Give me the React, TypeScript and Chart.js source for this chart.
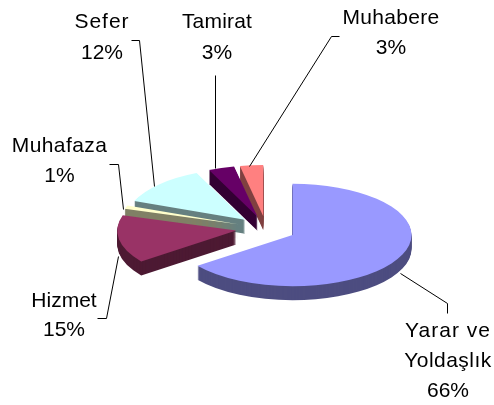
import React, { useEffect, useRef } from "react";
import { Chart, registerables } from "chart.js";

Chart.register(...registerables);

const categories = ["Yarar ve Yoldaşlık", "Hizmet", "Muhafaza", "Sefer", "Tamirat", "Muhabere"];
const shares = [65.5, 15, 1.1, 12.1, 3.4, 2.9];
const percentLabels = ["66%", "15%", "1%", "12%", "3%", "3%"];
const topColors = ["#9999FF", "#993366", "#FFFFCC", "#CCFFFF", "#660066", "#FF8080"];
const sideColors = ["#4D4D80", "#4D1A33", "#808066", "#668080", "#330033", "#804040"];

const FLATTEN = 0.43;
const DEPTH = 14;
const EXPLODE = 30;
const PERSPECTIVE = (3 * Math.PI) / 180;
const FONT = '21px "Liberation Sans", Arial, sans-serif';

const labelBlocks = [
  { lines: [["Yarar ve", 1], ["Yoldaşlık", 0.45]], x: 448, y: 331, gap: 30 },
  { lines: [["Hizmet", 0]], x: 64, y: 301, gap: 29 },
  { lines: [["Muhafaza", 0.4]], x: 59.5, y: 146, gap: 30 },
  { lines: [["Sefer", 1]], x: 102, y: 22, gap: 31 },
  { lines: [["Tamirat", 0.2]], x: 217, y: 22, gap: 31 },
  { lines: [["Muhabere", 0.3]], x: 391, y: 18, gap: 30 },
];

const leaders = [
  [[400, 273], [447, 303], [447, 313]],
  [[97, 318], [106, 318], [118, 256]],
  [[109, 164], [118, 164], [123, 209]],
  [[131, 40], [139, 40], [154, 186]],
  [[215, 75], [215, 168]],
  [[339, 36], [331, 36], [249, 166]],
];

// Excel's 3-D view pulls the slice edges slightly back from their true angle.
const warp = (angle: number) => {
  const t = (angle + Math.PI / 2 + Math.PI * 2) % (Math.PI * 2);
  return angle - PERSPECTIVE * Math.sqrt(Math.max(Math.sin(t / 2), 0));
};

const pie3d = {
  id: "pie3d",
  beforeDatasetsDraw(chart: any) {
    const ctx: CanvasRenderingContext2D = chart.ctx;
    const arcs = chart.getDatasetMeta(0).data;
    const shape = (arc: any, lift: number) => {
      const mid = (arc.startAngle + arc.endAngle) / 2;
      ctx.save();
      ctx.translate(
        arc.x + Math.cos(mid) * EXPLODE,
        arc.y + Math.sin(mid) * EXPLODE * FLATTEN + lift
      );
      ctx.scale(1, FLATTEN);
      ctx.beginPath();
      ctx.moveTo(0, 0);
      ctx.arc(0, 0, arc.outerRadius, warp(arc.startAngle), warp(arc.endAngle));
      ctx.closePath();
      ctx.restore();
    };
    for (let i = arcs.length - 1; i >= 0; i--) {
      ctx.fillStyle = sideColors[i];
      for (let k = DEPTH; k >= 1; k--) {
        shape(arcs[i], k);
        ctx.fill();
      }
      ctx.fillStyle = topColors[i];
      shape(arcs[i], 0);
      ctx.fill();
    }
    return false;
  },
  afterDraw(chart: any) {
    const ctx: any = chart.ctx;
    ctx.save();
    ctx.strokeStyle = "#000000";
    ctx.lineWidth = 1;
    leaders.forEach((pts) => {
      ctx.beginPath();
      pts.forEach(([x, y], j) => {
        if (j === 0) ctx.moveTo(x + 0.5, y + 0.5);
        else ctx.lineTo(x + 0.5, y + 0.5);
      });
      ctx.stroke();
    });
    ctx.fillStyle = "#000000";
    ctx.font = FONT;
    ctx.textAlign = "center";
    ctx.textBaseline = "middle";
    labelBlocks.forEach((b, i) => {
      const lines: any[] = [...b.lines, [percentLabels[i], 0]];
      lines.forEach(([t, tracking], j) => {
        ctx.letterSpacing = `${tracking}px`;
        ctx.fillText(t, b.x, b.y + j * b.gap);
      });
    });
    ctx.restore();
  },
};

export default function App() {
  const ref = useRef<HTMLCanvasElement>(null);
  useEffect(() => {
    const chart = new Chart(ref.current!, {
      type: "pie",
      data: {
        labels: categories,
        datasets: [{ data: shares, backgroundColor: topColors, borderWidth: 0 }],
      },
      options: {
        animation: false,
        responsive: false,
        layout: { padding: { left: 147, right: 109, top: 110, bottom: 57 } },
        plugins: { legend: { display: false }, tooltip: { enabled: false } },
      },
      plugins: [pie3d],
    } as any);
    return () => chart.destroy();
  }, []);
  return (
    <canvas
      ref={ref}
      width={494}
      height={405}
      style={{ position: "absolute", left: 0, top: 0, display: "block", width: 494, height: 405 }}
    />
  );
}
